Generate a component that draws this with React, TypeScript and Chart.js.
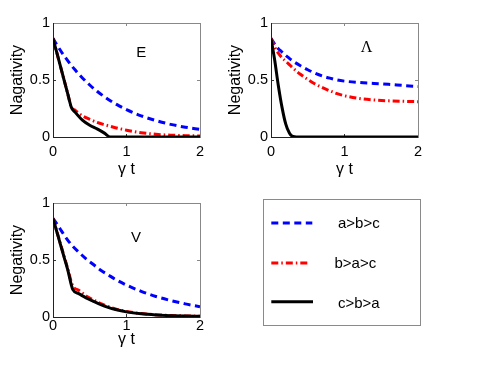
import React, { useEffect, useRef } from 'react';
import { Chart, registerables } from 'chart.js';

Chart.register(...registerables);

// ---------- data ----------
const seriesNames = ['a>b>c', 'b>a>c', 'c>b>a'];
const xTickValues = [0, 1, 2];
const xTickLabels = ['0', '1', '2'];
const yTickValues = [0, 0.5, 1];
const yTickLabels = ['0', '0.5', '1'];

// Panel E
const tE = [0, 0.05, 0.1, 0.15, 0.2, 0.25, 0.3, 0.4, 0.5, 0.6, 0.7, 0.78, 0.9, 1.0, 1.2, 1.4, 1.6, 1.8, 2.0];
const eBlue = [0.865, 0.811, 0.761, 0.714, 0.67, 0.628, 0.589, 0.518, 0.456, 0.401, 0.353, 0.318, 0.273, 0.24, 0.186, 0.144, 0.111, 0.086, 0.067];
const eRed = [0.865, 0.744, 0.623, 0.502, 0.381, 0.26, 0.235, 0.185, 0.155, 0.128, 0.108, 0.094, 0.074, 0.06, 0.038, 0.024, 0.016, 0.012, 0.009];
const eBlack = [0.865, 0.744, 0.623, 0.502, 0.381, 0.26, 0.218, 0.148, 0.103, 0.071, 0.034, 0, 0, 0, 0, 0, 0, 0, 0];

// Panel Λ
const tL = [0, 0.05, 0.1, 0.15, 0.2, 0.25, 0.3, 0.4, 0.5, 0.6, 0.7, 0.8, 0.9, 1.0, 1.2, 1.4, 1.6, 1.8, 2.0];
const lBlue = [0.865, 0.815, 0.775, 0.745, 0.715, 0.69, 0.665, 0.625, 0.59, 0.56, 0.535, 0.516, 0.5, 0.49, 0.478, 0.47, 0.462, 0.452, 0.443];
const lRed = [0.865, 0.79, 0.735, 0.695, 0.665, 0.635, 0.605, 0.55, 0.505, 0.465, 0.433, 0.405, 0.38, 0.362, 0.338, 0.325, 0.317, 0.313, 0.31];
const lBlack = [0.865, 0.675, 0.45, 0.26, 0.115, 0.035, 0.005, 0, 0, 0, 0, 0, 0, 0, 0, 0, 0, 0, 0];

// Panel V
const tV = [0, 0.05, 0.1, 0.15, 0.2, 0.27, 0.35, 0.45, 0.55, 0.65, 0.75, 0.85, 1.0, 1.2, 1.4, 1.6, 1.8, 2.0];
const vBlue = [0.865, 0.82, 0.77, 0.72, 0.675, 0.62, 0.57, 0.51, 0.46, 0.41, 0.37, 0.33, 0.28, 0.225, 0.18, 0.145, 0.115, 0.09];
const vRed = [0.865, 0.755, 0.645, 0.535, 0.425, 0.27, 0.235, 0.185, 0.15, 0.118, 0.092, 0.07, 0.048, 0.03, 0.02, 0.013, 0.009, 0.007];
const vBlack = [0.865, 0.752, 0.64, 0.527, 0.415, 0.24, 0.205, 0.168, 0.138, 0.109, 0.085, 0.066, 0.045, 0.028, 0.018, 0.012, 0.008, 0.006];

// ---------- styles ----------
const SANS = '"Liberation Sans", Arial, Helvetica, sans-serif';
const SERIF = '"Liberation Serif", "Times New Roman", serif';
const seriesStyles = [
  { color: '#0000ff', dash: [7, 4.5] },
  { color: '#ff0000', dash: [7, 3, 1.5, 3] },
  { color: '#000000', dash: [] as number[] },
];

const labelPlugin = {
  id: 'panelLabel',
  afterDatasetsDraw(chart: any, _args: any, opts: any) {
    if (!opts || !opts.text) return;
    const { ctx } = chart;
    const xs = chart.scales.x;
    const ys = chart.scales.y;
    ctx.save();
    ctx.font = opts.font;
    ctx.fillStyle = '#000';
    ctx.textAlign = 'center';
    ctx.textBaseline = 'middle';
    ctx.fillText(opts.text, xs.getPixelForValue(opts.x), ys.getPixelForValue(opts.y));
    ctx.restore();
  },
};

type PanelProps = {
  left: number;
  top: number;
  t: number[];
  blue: number[];
  red: number[];
  black: number[];
  ylabel: string;
  label: string;
  labelX: number;
  labelY: number;
  labelFont: string;
  tickPad: number;
  titlePadBottom: number;
};

const CW = 240;
const CH = 185;

function Panel(p: PanelProps) {
  const ref = useRef<HTMLCanvasElement>(null);
  useEffect(() => {
    const pts = (vals: number[]) => p.t.map((x, i) => ({ x, y: vals[i] }));
    const vals = [p.blue, p.red, p.black];
    const tickFont = { family: SANS, size: 14.5 };
    const titleFont = { family: SANS, size: 16 };
    const setX = (s: any) => {
      s.ticks = xTickValues.map((v) => ({ value: v }));
    };
    const setY = (s: any) => {
      s.ticks = yTickValues.map((v) => ({ value: v }));
    };
    const chart = new Chart(ref.current as HTMLCanvasElement, {
      type: 'line',
      data: {
        datasets: seriesNames.map((name, i) => ({
          label: name,
          data: pts(vals[i]),
          borderColor: seriesStyles[i].color,
          backgroundColor: seriesStyles[i].color,
          borderWidth: 3,
          borderDash: seriesStyles[i].dash,
          pointRadius: 0,
          cubicInterpolationMode: 'monotone',
          fill: false,
          xAxisID: 'x',
          yAxisID: 'y',
          order: 2 - i,
        })) as any,
      },
      options: {
        animation: false,
        responsive: false,
        events: [],
        layout: { padding: { top: 23, right: 40, bottom: 0, left: 0 } },
        plugins: {
          legend: { display: false },
          tooltip: { enabled: false },
          panelLabel: { text: p.label, x: p.labelX, y: p.labelY, font: p.labelFont },
        } as any,
        scales: {
          x: {
            type: 'linear',
            axis: 'x',
            position: 'bottom',
            min: 0,
            max: 2,
            afterFit: (s: any) => {
              s.height = 48;
            },
            afterBuildTicks: setX,
            ticks: {
              font: tickFont,
              color: '#000',
              padding: p.tickPad,
              maxRotation: 0,
              autoSkip: false,
              callback: (_v: any, i: number) => xTickLabels[i],
            },
            grid: { drawOnChartArea: false, drawTicks: true, tickLength: -3, color: '#333', lineWidth: 1 },
            border: { display: true, color: '#222', width: 1 },
            title: { display: true, text: 'γ t', font: titleFont, color: '#000', padding: { top: 0, bottom: p.titlePadBottom } },
          },
          x2: {
            type: 'linear',
            axis: 'x',
            position: 'top',
            min: 0,
            max: 2,
            afterFit: (s: any) => {
              s.height = 0;
            },
            afterBuildTicks: setX,
            ticks: { display: false },
            grid: { drawOnChartArea: false, drawTicks: true, tickLength: -3, color: '#888', lineWidth: 1 },
            border: { display: true, color: '#888', width: 1 },
          },
          y: {
            type: 'linear',
            axis: 'y',
            position: 'left',
            min: 0,
            max: 1,
            afterFit: (s: any) => {
              s.width = 53;
            },
            afterBuildTicks: setY,
            ticks: {
              font: tickFont,
              color: '#000',
              padding: 6,
              autoSkip: false,
              callback: (_v: any, i: number) => yTickLabels[i],
            },
            grid: { drawOnChartArea: false, drawTicks: true, tickLength: -3, color: '#333', lineWidth: 1 },
            border: { display: true, color: '#222', width: 1 },
            title: { display: true, text: p.ylabel, font: titleFont, color: '#000', padding: { top: 8, bottom: 0 } },
          },
          y2: {
            type: 'linear',
            axis: 'y',
            position: 'right',
            min: 0,
            max: 1,
            afterFit: (s: any) => {
              s.width = 0;
            },
            afterBuildTicks: setY,
            ticks: { display: false },
            grid: { drawOnChartArea: false, drawTicks: true, tickLength: -3, color: '#888', lineWidth: 1 },
            border: { display: true, color: '#888', width: 1 },
          },
        } as any,
      },
      plugins: [labelPlugin],
    });
    return () => chart.destroy();
  }, []);
  return (
    <canvas
      ref={ref}
      width={CW}
      height={CH}
      style={{ position: 'absolute', left: p.left, top: p.top, width: CW, height: CH }}
    />
  );
}

function Legend() {
  const rows = [
    { lineY: 223, x2: 312.3, textLeft: 338, textY: 223.3 },
    { lineY: 263, x2: 309.7, textLeft: 334.5, textY: 263.3 },
    { lineY: 301.7, x2: 313, textLeft: 338, textY: 302.7 },
  ];
  return (
    <>
      <div
        style={{
          position: 'absolute',
          left: 263,
          top: 199,
          width: 156,
          height: 125,
          border: '1px solid #8a8a8a',
          boxSizing: 'content-box',
        }}
      />
      <svg
        width={492}
        height={382}
        style={{ position: 'absolute', left: 0, top: 0, pointerEvents: 'none' }}
      >
        {rows.map((r, i) => (
          <line
            key={i}
            x1={271.3}
            x2={r.x2}
            y1={r.lineY}
            y2={r.lineY}
            stroke={seriesStyles[i].color}
            strokeWidth={3}
            strokeDasharray={seriesStyles[i].dash.length ? seriesStyles[i].dash.join(' ') : undefined}
          />
        ))}
      </svg>
      {rows.map((r, i) => (
        <div
          key={i}
          style={{
            position: 'absolute',
            left: r.textLeft,
            top: r.textY - 10,
            height: 20,
            lineHeight: '20px',
            fontFamily: SANS,
            fontSize: 15,
            color: '#000',
            whiteSpace: 'nowrap',
          }}
        >
          {seriesNames[i]}
        </div>
      ))}
    </>
  );
}

export default function App() {
  return (
    <div
      style={{
        position: 'absolute',
        left: 0,
        top: 0,
        width: 492,
        height: 382,
        background: '#fff',
        overflow: 'hidden',
      }}
    >
      <Panel
        left={0}
        top={0}
        t={tE}
        blue={eBlue}
        red={eRed}
        black={eBlack}
        ylabel="Nagativity"
        label="E"
        labelX={1.2}
        labelY={0.74}
        labelFont={`15px ${SANS}`}
        tickPad={9}
        titlePadBottom={6}
      />
      <Panel
        left={218}
        top={0}
        t={tL}
        blue={lBlue}
        red={lRed}
        black={lBlack}
        ylabel="Negativity"
        label="Λ"
        labelX={1.3}
        labelY={0.78}
        labelFont={`16px ${SERIF}`}
        tickPad={9}
        titlePadBottom={6}
      />
      <Panel
        left={0}
        top={180}
        t={tV}
        blue={vBlue}
        red={vRed}
        black={vBlack}
        ylabel="Negativity"
        label="V"
        labelX={1.13}
        labelY={0.69}
        labelFont={`15px ${SANS}`}
        tickPad={3}
        titlePadBottom={16}
      />
      <Legend />
    </div>
  );
}
